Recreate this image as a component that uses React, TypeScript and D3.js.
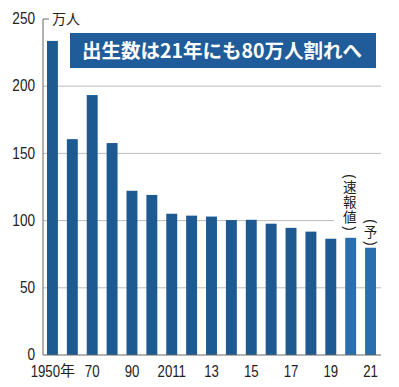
import React from "react";
import * as d3 from "d3";

const years = ["1950", "1960", "1970", "1980", "1990", "2000", "2011", "2012", "2013", "2014", "2015", "2016", "2017", "2018", "2019", "2020", "2021"];
const births = [233.7, 160.6, 193.4, 157.7, 122.2, 119.1, 105.1, 103.7, 103.0, 100.4, 100.6, 97.7, 94.6, 91.8, 86.5, 87.2, 79.8];
const xLabels = ["1950", "", "70", "", "90", "", "2011", "", "13", "", "15", "", "17", "", "19", "", "21"];
const yTicks = [0, 50, 100, 150, 200, 250];
const title = "出生数は21年にも80万人割れへ";
const noteA = ["速", "報", "値"];
const noteB = ["予"];

const W = 399;
const H = 387;
const left = 43;
const right = 381;
const font = "'Liberation Sans', Arial, sans-serif";
const cjk = "'Noto Sans CJK JP', sans-serif";
const narrow = 0.8;

// vertical note in brackets: kanji stacked in one text, brackets rotated
function VNote({ cx, top, chars }: { cx: number; top: number; chars: string[] }) {
  const br = 7;
  const step = 15;
  const bottom = top + br + chars.length * step;
  return (
    <g fill="#222">
      <text transform={`translate(${cx},${top + br / 2}) rotate(90) scale(1,1.15)`} dy="0.32em" textAnchor="middle"
        fontFamily={font} fontSize={13}>(</text>
      <text textAnchor="middle" fontFamily={cjk} fontSize={13.5}>
        {chars.map((c, i) => (
          <tspan key={i} x={cx} y={top + br + i * step + step / 2} dy="0.36em">{c}</tspan>
        ))}
      </text>
      <text transform={`translate(${cx},${bottom + br / 2}) rotate(90) scale(1,1.15)`} dy="0.32em" textAnchor="middle"
        fontFamily={font} fontSize={13}>)</text>
    </g>
  );
}

export default function App() {
  const x = d3.scaleBand<string>().domain(years).range([left, 380]).paddingInner(0.45).paddingOuter(0.2);
  const y = d3.scaleLinear().domain([0, 250]).range([355, 19]);
  const cx = (yr: string) => x(yr)! + x.bandwidth() / 2;

  return (
    <svg width={W} height={H} style={{ position: "absolute", left: 0, top: 0, background: "#fff" }}>
      {/* grid */}
      {yTicks.filter(t => t > 0 && t < 250).map(t => (
        <line key={t} x1={left} x2={t === 100 ? 334 : right} y1={y(t)} y2={y(t)} stroke="#bdbdbd" strokeWidth={1} />
      ))}
      {/* bars */}
      {years.map((yr, i) => (
        <rect key={yr} x={x(yr)} y={y(births[i])} width={x.bandwidth()} height={y(0) - y(births[i])}
          fill={i >= 15 ? "#2b6eae" : "#1d5a92"} />
      ))}
      {/* axes */}
      <line x1={left} x2={left} y1={y(0)} y2={y(250)} stroke="#666" strokeWidth={1} />
      <line x1={left} x2={left + 6} y1={y(250)} y2={y(250)} stroke="#666" strokeWidth={1} />
      <line x1={left} x2={right} y1={y(0)} y2={y(0)} stroke="#666" strokeWidth={1} />
      {yTicks.map(t => (
        <text key={t} transform={`translate(35,${y(t) - 1}) scale(${narrow},1)`} dy="0.36em" textAnchor="end"
          fontFamily={font} fontSize={17} fill="#222">{t}</text>
      ))}
      <text x={52} y={y(250)} dy="0.36em" fontFamily={cjk} fontSize={14} fill="#222">万人</text>
      {xLabels.map((l, i) => l && (i === 0 ? (
        <g key={i}>
          <text transform={`translate(60,377) scale(${narrow},1)`} textAnchor="end" fontFamily={font} fontSize={16.5} fill="#222">{l}</text>
          <text x={60} y={376} fontFamily={cjk} fontSize={15} fill="#222">年</text>
        </g>
      ) : (
        <text key={i} transform={`translate(${cx(years[i])},377) scale(${narrow},1)`} textAnchor="middle"
          fontFamily={font} fontSize={16.5} fill="#222">{l}</text>
      )))}
      {/* title box */}
      <rect x={70} y={33} width={306} height={35} fill="#1f5c99" />
      <text x={222} y={51} dy="0.36em" textAnchor="middle" fontFamily={cjk} fontWeight="bold" fontSize={19.5} fill="#fff">{title}</text>
      {/* vertical notes */}
      <VNote cx={cx("2020") - 1} top={173} chars={noteA} />
      <VNote cx={cx("2021")} top={218} chars={noteB} />
    </svg>
  );
}
